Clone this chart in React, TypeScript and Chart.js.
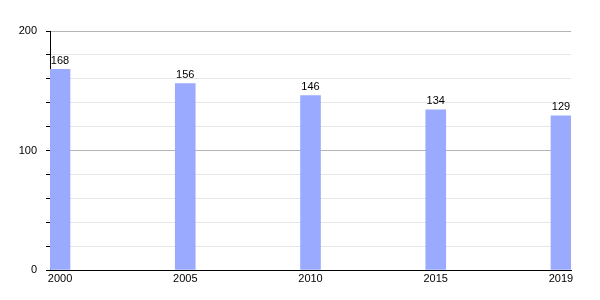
import React, { useEffect, useRef } from "react";
import { Chart, registerables } from "chart.js";

Chart.register(...registerables);

const years = ["2000", "2005", "2010", "2015", "2019"];
const values = [168, 156, 146, 134, 129];
const yLabels = [0, 100, 200];

const labelPlugin = {
  id: "barLabels",
  afterDatasetsDraw(chart: any) {
    const ctx = chart.ctx;
    const meta = chart.getDatasetMeta(0);
    ctx.save();
    ctx.font = "11px 'Liberation Sans', Arial, sans-serif";
    ctx.fillStyle = "#000";
    ctx.textAlign = "center";
    ctx.textBaseline = "bottom";
    meta.data.forEach((el: any, i: number) => {
      ctx.fillText(String(values[i]), el.x, el.y - 3);
    });
    ctx.restore();
  },
};

export default function App() {
  const ref = useRef<HTMLCanvasElement>(null);
  useEffect(() => {
    document.body.style.margin = "0";
    const chart = new Chart(ref.current!, {
      type: "bar",
      data: {
        datasets: [
          {
            data: values.map((v, i) => ({ x: i, y: v })),
            backgroundColor: "#9aabff",
            barThickness: 20,
          },
        ],
      },
      options: {
        animation: false,
        responsive: false,
        maintainAspectRatio: false,
        layout: { padding: { left: 0, right: 29, top: 31, bottom: 0 } },
        plugins: { legend: { display: false }, tooltip: { enabled: false } },
        scales: {
          x: {
            type: "linear",
            offset: false,
            min: -0.08,
            max: 4.08,
            afterBuildTicks: (scale: any) => {
              scale.ticks = years.map((_, i) => ({ value: i }));
            },
            afterFit: (scale: any) => {
              scale.height = 30;
            },
            grid: { display: false, drawTicks: false, offset: false },
            border: { display: true, color: "#000", width: 1 },
            ticks: {
              callback: (v: any) => years[v] ?? "",
              color: "#000",
              font: { family: "'Liberation Sans', Arial, sans-serif", size: 11 },
              padding: 2,
              maxRotation: 0,
              autoSkip: false,
            },
          },
          y: {
            min: 0,
            max: 200,
            afterFit: (scale: any) => {
              scale.width = 50;
            },
            grid: {
              color: (c: any) => (c.tick && c.tick.value % 100 === 0 ? "#b4b4b4" : "#e6e6e6"),
              tickColor: "#000",
              tickLength: 4,
            },
            border: { display: true, color: "#000", width: 1 },
            ticks: {
              stepSize: 20,
              autoSkip: false,
              callback: (v: any) => (yLabels.includes(v) ? String(v) : ""),
              color: "#000",
              font: { family: "'Liberation Sans', Arial, sans-serif", size: 11 },
              padding: 9,
            },
          },
        },
      },
      plugins: [labelPlugin],
    });
    return () => chart.destroy();
  }, []);
  return (
    <div style={{ width: 600, height: 300 }}>
      <canvas ref={ref} width={600} height={300} />
    </div>
  );
}
